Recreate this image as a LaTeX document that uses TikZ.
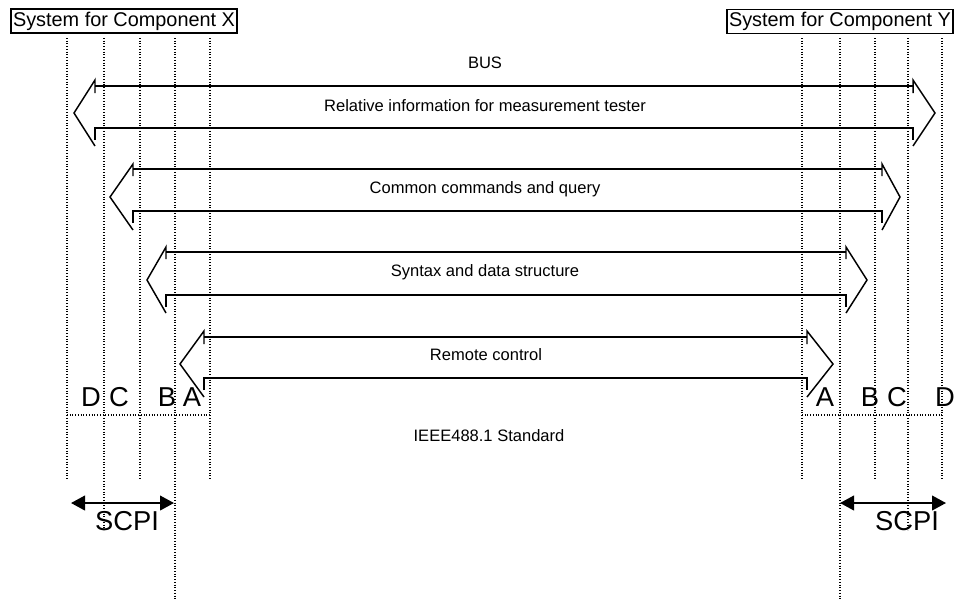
\documentclass[tikz,border=0pt]{standalone}
\usepackage{fontspec}
\setmainfont{Liberation Sans}
\usetikzlibrary{arrows.meta}
\begin{document}
\begin{tikzpicture}[x=0.75pt,y=-0.75pt,
  guide/.style={line width=0.9pt,dash pattern=on 0.75pt off 1.3pt},
  blockarr/.style={line width=1.1pt,line join=miter},
  hdr/.style={draw,line width=1.2pt,minimum width=169.5pt,minimum height=18pt,inner sep=0pt,font=\fontsize{14.9pt}{16pt}\selectfont},
  lbl/.style={font=\fontsize{12.4pt}{14pt}\selectfont,inner sep=0pt},
  big/.style={font=\fontsize{20.5pt}{22pt}\selectfont,inner sep=0pt},
  scpi/.style={line width=1.5pt,{Triangle[length=10.5pt,width=11pt]}-{Triangle[length=10.5pt,width=11pt]}}]
\useasboundingbox (0,0) rectangle (955,601);
% header boxes
\node[hdr] (sysx) at (124,21) {System for Component X};
\node[hdr] (sysy) at (840,21.5) {System for Component Y};
% vertical guide lines
\foreach \x/\yb in {67/480,104/530,140/480,175/600,210/480,802/480,840/600,875/480,908/530,942/480}
  \draw[guide] (\x,38) -- (\x,\yb);
% horizontal guide lines
\draw[guide] (67,415) -- (210,415);
\draw[guide] (802,415) -- (942,415);
% block double arrows: xl, xr, tl, tr, yt, yb, ht, hb
\newcommand{\blockarrow}[8]{%
  \pgfmathsetmacro{\tipy}{(#7+#8)/2}
  \draw[blockarr] (#1,#5) -- (#2,#5);
  \draw[blockarr] (#1,#6+12) -- (#1,#6) -- (#2,#6) -- (#2,#6+12);
  \draw[blockarr] (#1,#5+7) -- (#1,#7) -- (#3,\tipy) -- (#1,#8);
  \draw[blockarr] (#2,#5+7) -- (#2,#7) -- (#4,\tipy) -- (#2,#8);
}
\blockarrow{95}{913}{74}{935}{86}{128}{80}{146}
\blockarrow{133}{882}{110}{900}{169}{211}{164}{230}
\blockarrow{166}{846}{147}{867}{252}{295}{247}{313}
\blockarrow{204}{807}{180}{833}{337}{378}{331}{397}
% labels
\node[lbl] (bus) at (485,63) {BUS};
\node[lbl] (rel) at (485,106) {Relative information for measurement tester};
\node[lbl] (com) at (485,189) {Common commands and query};
\node[lbl] (syn) at (485,272) {Syntax and data structure};
\node[lbl] (rem) at (486,355) {Remote control};
\node[lbl] (ieee) at (489,436) {IEEE488.1 Standard};
% letters
\node[big] (ld) at (91,397) {D};
\node[big] (lc) at (119,397) {C};
\node[big] (lb) at (167,397) {B};
\node[big] (la) at (192,397) {A};
\node[big] (ra) at (825,397) {A};
\node[big] (rb) at (870,397) {B};
\node[big] (rc) at (897,397) {C};
\node[big] (rd) at (945,397) {D};
% SCPI
\coordinate (sl1) at (71,503);
\coordinate (sl2) at (174,503);
\coordinate (sr1) at (840,503);
\coordinate (sr2) at (946,503);
\draw[scpi] (sl1) -- (sl2);
\draw[scpi] (sr1) -- (sr2);
\node[big] (scpil) at (127,521) {SCPI};
\node[big] (scpir) at (907,521) {SCPI};
\end{tikzpicture}
\end{document}
